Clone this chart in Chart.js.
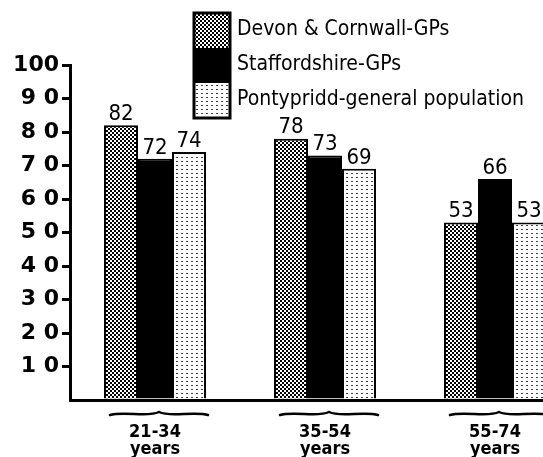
<!DOCTYPE html>
<html>
<head>
<meta charset="utf-8">
<script src="https://cdn.jsdelivr.net/npm/chart.js@4/dist/chart.umd.min.js"></script>
<style>
  html, body { margin: 0; padding: 0; background: white; overflow: hidden; }
  #wrap { width: 590px; height: 457px; }
</style>
</head>
<body>
<div id="wrap"><canvas id="barChart" width="590" height="457"></canvas></div>
<script>
var categories = [["21-34", "years"], ["35-54", "years"], ["55-74", "years"]];
var seriesNames = ["Devon \u0026 Cornwall-GPs", "Staffordshire-GPs", "Pontypridd-general population"];
var devonValues = [82, 78, 53];
var staffsValues = [72, 73, 66];
var pontyValues = [74, 69, 53];
var yTickLabels = ["", "1 0", "2 0", "3 0", "4 0", "5 0", "6 0", "7 0", "8 0", "9 0", "100"];

var FONT = "'DejaVu Sans Condensed', 'DejaVu Sans', sans-serif";

// little textures like the old halftone fills
function makePattern(kind) {
    var c = document.createElement('canvas');
    var g = c.getContext('2d');
    if (kind == 'dense') {
        c.width = 4; c.height = 4;
        g.fillStyle = 'white';
        g.fillRect(0, 0, 4, 4);
        g.fillStyle = 'black';
        g.fillRect(0, 0, 2, 2);
        g.fillRect(2, 2, 2, 2);
    } else if (kind == 'sparse') {
        c.width = 5; c.height = 4;
        g.fillStyle = 'white';
        g.fillRect(0, 0, 5, 4);
        g.fillStyle = '#444';
        g.fillRect(1, 1, 2, 1);
    } else {
        c.width = 2; c.height = 2;
        g.fillStyle = 'black';
        g.fillRect(0, 0, 2, 2);
    }
    return g.createPattern(c, 'repeat');
}

var ctx = document.getElementById('barChart').getContext('2d');
var fills = [makePattern('dense'), makePattern('solid'), makePattern('sparse')];

// numbers above the bars
var valueLabels = {
    id: 'valueLabels',
    afterDatasetsDraw: function(chart) {
        var c = chart.ctx;
        c.save();
        c.fillStyle = 'black';
        c.font = '22px ' + FONT;
        c.textAlign = 'center';
        c.textBaseline = 'bottom';
        chart.data.datasets.forEach(function(ds, i) {
            chart.getDatasetMeta(i).data.forEach(function(bar, j) {
                c.fillText(ds.data[j], bar.x, bar.y);
            });
        });
        c.restore();
    }
};

// curly braces under each age group
var braces = {
    id: 'braces',
    afterDraw: function(chart) {
        var c = chart.ctx;
        var first = chart.getDatasetMeta(0).data;
        var last = chart.getDatasetMeta(chart.data.datasets.length - 1).data;
        var y = chart.chartArea.bottom + 14;
        c.save();
        c.strokeStyle = 'black';
        c.lineWidth = 2.5;
        c.lineCap = 'round';
        first.forEach(function(bar, j) {
            var l = bar.x - bar.width / 2 + 6;
            var r = last[j].x + last[j].width / 2 + 2;
            var m = (l + r) / 2;
            c.beginPath();
            c.moveTo(l, y + 1);
            c.quadraticCurveTo(l + 6, y - 1, (l + m) / 2, y);
            c.quadraticCurveTo(m - 6, y + 1, m, y - 2);
            c.quadraticCurveTo(m + 6, y + 1, (m + r) / 2, y);
            c.quadraticCurveTo(r - 6, y - 1, r, y + 1);
            c.stroke();
        });
        c.restore();
    }
};

// stacked box legend top centre
var boxLegend = {
    id: 'boxLegend',
    afterDraw: function(chart) {
        var c = chart.ctx;
        var x = 194, y = 13, w = 36, h = 35;
        c.save();
        chart.data.datasets.forEach(function(ds, i) {
            c.fillStyle = ds.backgroundColor;
            c.fillRect(x, y + i * h, w, h);
        });
        c.strokeStyle = 'black';
        c.lineWidth = 3;
        c.strokeRect(x, y, w, h * chart.data.datasets.length);
        c.fillStyle = 'black';
        c.font = '21px ' + FONT;
        c.textAlign = 'left';
        c.textBaseline = 'middle';
        chart.data.datasets.forEach(function(ds, i) {
            c.fillText(ds.label, x + w + 7, y + i * h + h / 2 - 1);
        });
        c.restore();
    }
};

const barChart = new Chart(ctx, {
    type: 'bar',
    data: {
        labels: categories,
        datasets: [
            { label: seriesNames[0], data: devonValues, backgroundColor: fills[0] },
            { label: seriesNames[1], data: staffsValues, backgroundColor: fills[1] },
            { label: seriesNames[2], data: pontyValues, backgroundColor: fills[2] }
        ]
    },
    options: {
        responsive: false,
        animation: false,
        layout: { padding: { top: 65, right: 10, left: 0, bottom: 0 } },
        datasets: {
            bar: {
                borderColor: 'black',
                borderWidth: 2,
                borderSkipped: 'bottom',
                categoryPercentage: 0.6,
                barPercentage: 1.0
            }
        },
        plugins: {
            legend: { display: false },
            tooltip: { enabled: false }
        },
        scales: {
            x: {
                grid: { display: false },
                border: { color: 'black', width: 3 },
                ticks: {
                    color: 'black',
                    padding: 16,
                    font: { family: FONT, size: 18, weight: 'bold', lineHeight: 0.95 }
                },
                afterFit: function(s) { s.height = 57; }
            },
            y: {
                min: 0,
                max: 100,
                border: { color: 'black', width: 3 },
                grid: {
                    drawOnChartArea: false,
                    drawTicks: true,
                    tickLength: 8,
                    lineWidth: 3,
                    color: function(c) { return c.tick && c.tick.value == 0 ? 'rgba(0,0,0,0)' : 'black'; }
                },
                ticks: {
                    stepSize: 10,
                    color: 'black',
                    padding: 3,
                    font: { family: "'DejaVu Sans', sans-serif", size: 22, weight: 'bold' },
                    callback: function(v) { return yTickLabels[Math.round(v / 10)]; }
                },
                afterFit: function(s) { s.width = 70; }
            }
        }
    },
    plugins: [valueLabels, braces, boxLegend]
});
</script>
</body>
</html>
